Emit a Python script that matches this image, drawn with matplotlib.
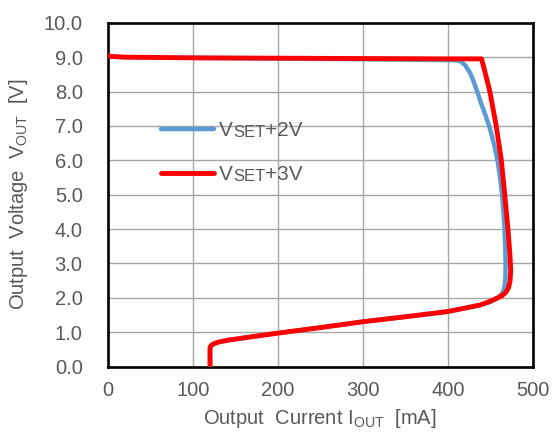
import matplotlib
matplotlib.use("Agg")
import matplotlib.pyplot as plt
from matplotlib.lines import Line2D

plt.rcParams['font.family'] = ['Liberation Sans', 'DejaVu Sans']
plt.rcParams['mathtext.fontset'] = 'custom'
plt.rcParams['mathtext.rm'] = 'Liberation Sans'

# Data
i_2v = [0, 3, 20, 100, 200, 300, 380, 408, 414, 420, 426, 430, 434.6, 440, 444.5, 448.6, 452, 455.5,
        458.5, 461.5, 463.8, 465.5, 466.8, 467.6, 468, 467.8, 467, 465.5, 463, 459, 452, 438, 420,
        399.8, 350, 298.7, 251.7, 199, 170, 141.6, 130, 126, 123, 121, 120.4, 120.4, 120.4]
v_2v = [9.07, 9.02, 9.0, 8.98, 8.96, 8.94, 8.92, 8.91, 8.89, 8.78, 8.55, 8.32, 8.0, 7.6, 7.3, 7.0, 6.7, 6.35,
        6.0, 5.5, 5.0, 4.5, 4.0, 3.5, 3.0, 2.6, 2.35, 2.2, 2.1, 2.0, 1.9, 1.79, 1.7,
        1.6, 1.45, 1.3, 1.14, 0.97, 0.87, 0.77, 0.71, 0.675, 0.64, 0.59, 0.54, 0.4, 0.0]

i_3v = [0, 3, 20, 100, 200, 300, 400, 439.7, 444.5, 449.5, 457, 463, 467, 470.8, 473, 474, 473.3,
        471.5, 468, 463, 457, 448, 437.7, 420, 399.8, 350, 298.7, 251.7, 199, 170, 141.6, 130,
        126, 123, 121, 120.4, 120.4, 120.4]
v_3v = [9.07, 9.02, 9.0, 8.98, 8.97, 8.96, 8.95, 8.95, 8.5, 8.0, 7.0, 6.0, 5.0, 4.0, 3.3, 2.8, 2.5,
        2.3, 2.15, 2.05, 1.98, 1.88, 1.79, 1.7, 1.6, 1.45, 1.3, 1.14, 0.97, 0.87, 0.77, 0.71,
        0.675, 0.64, 0.59, 0.54, 0.4, 0.0]

x_ticks = [0, 100, 200, 300, 400, 500]
y_ticks = [0.0, 1.0, 2.0, 3.0, 4.0, 5.0, 6.0, 7.0, 8.0, 9.0, 10.0]
legend_suffix = ["+2V", "+3V"]

blue = '#5b9bd5'
red = '#ff0000'
txt = '#595959'

fig = plt.figure(figsize=(5.55, 4.38), dpi=100)
ax = fig.add_axes([0.194, 0.163, 0.766, 0.785])

ax.plot(i_2v, v_2v, color=blue, lw=3.2, solid_capstyle='butt', solid_joinstyle='round', zorder=3)
ax.plot(i_3v, v_3v, color=red, lw=3.5, solid_capstyle='butt', solid_joinstyle='round', zorder=4)

ax.set_xlim(0, 500)
ax.set_ylim(0, 10)
ax.set_xticks(x_ticks)
ax.set_yticks(y_ticks)
ax.set_yticklabels([f"{v:.1f}" for v in y_ticks])
ax.grid(True, color='#a6a6a6', lw=1.0, zorder=0)
ax.set_axisbelow(True)
for s in ax.spines.values():
    s.set_color('black')
    s.set_linewidth(1.9)
ax.tick_params(length=0, labelsize=14.5, labelcolor=txt)
ax.tick_params(axis='x', pad=10.5)
ax.tick_params(axis='y', pad=18)

ax.set_xlabel(r"Output  Current $\mathregular{I_{OUT}}$  [mA]", fontsize=14.5, color=txt, labelpad=5)
ax.set_ylabel(r"Output  Voltage  $\mathregular{V_{OUT}}$  [V]", fontsize=14.5, color=txt, labelpad=10)

# Legend drawn manually
for (yy, col, lw, lab) in [(0.691, blue, 3.2, legend_suffix[0]), (0.563, red, 3.5, legend_suffix[1])]:
    ax.add_line(Line2D([0.125, 0.25], [yy, yy], transform=ax.transAxes, color=col, lw=lw,
                       solid_capstyle='round', zorder=5))
    t1 = ax.text(0.262, yy - 0.004, "V", transform=ax.transAxes, fontsize=15, color=txt, va='center', ha='left')
    t2 = ax.annotate("SET", xy=(1, 0), xycoords=t1, fontsize=12, color=txt, va='bottom', ha='left')
    ax.annotate(lab, xy=(1, 0), xycoords=t2, fontsize=15, color=txt, va='bottom', ha='left')

fig.savefig("out.png", dpi=100)
